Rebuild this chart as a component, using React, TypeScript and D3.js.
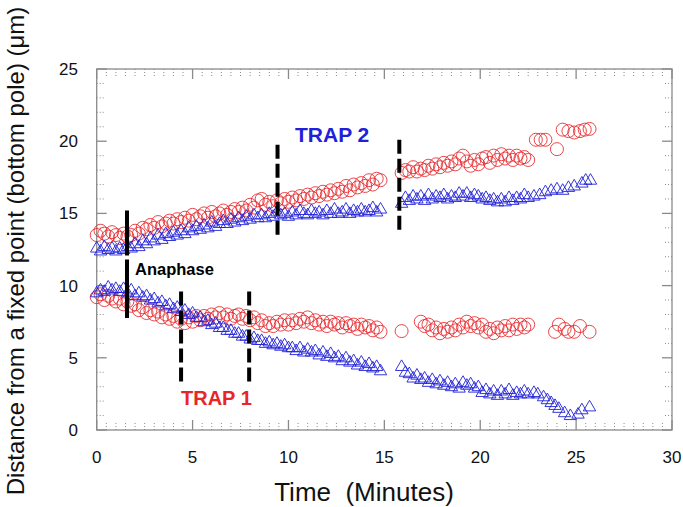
import React from 'react';
import * as d3 from 'd3';

// sampling interval of the tracked frames (minutes)
const dt = 0.2;

// pole positions (um), first stretch 0 - 14.8 min
const seg1Start = 0;
const upperRed1 = [
  13.5, 13.8, 13.6, 13.4, 13.7, 13.5, 13.3, 13.6, 13.4, 13.5, 13.8, 13.6, 14.0, 13.9, 14.2, 14.0, 14.4, 14.1, 14.3, 14.5,
  14.3, 14.6, 14.4, 14.7, 14.5, 14.9, 14.6, 14.8, 15.0, 14.7, 15.1, 14.8, 15.0, 15.2, 14.9, 15.1, 15.3, 15.1, 15.4, 15.2,
  15.6, 15.4, 15.9, 16.0, 15.6, 15.8, 15.5, 15.9, 15.7, 16.0, 15.8, 16.1, 15.9, 16.2, 16.0, 16.3, 16.1, 16.4, 16.2, 16.5,
  16.3, 16.6, 16.4, 16.7, 16.5, 16.9, 16.6, 17.0, 16.8, 17.1, 16.9, 17.3, 17.0, 17.4, 17.3,
];
const upperBlue1 = [
  12.6, 12.4, 12.7, 12.5, 12.6, 12.4, 12.6, 12.5, 12.7, 12.6, 12.9, 12.7, 13.1, 12.9, 13.3, 13.1, 13.5, 13.2, 13.6, 13.4,
  13.7, 13.5, 13.8, 13.6, 14.0, 13.8, 14.1, 13.9, 14.2, 14.0, 14.4, 14.1, 14.3, 14.5, 14.3, 14.6, 14.4, 14.7, 14.5, 14.8,
  14.6, 14.9, 14.7, 14.9, 14.7, 15.0, 14.8, 15.1, 14.9, 15.0, 14.8, 15.1, 14.9, 15.2, 15.0, 14.9, 15.2, 15.0, 15.1, 14.9,
  15.2, 15.0, 15.3, 15.0, 15.1, 15.3, 15.0, 15.2, 15.1, 15.3, 15.1, 15.2, 15.4, 15.1, 15.3,
];
const lowerRed1 = [
  9.2, 9.4, 9.0, 9.3, 9.1, 8.9, 9.1, 8.7, 8.9, 8.6, 8.7, 8.3, 8.5, 8.1, 8.3, 8.0, 8.2, 7.8, 8.0, 7.7,
  7.9, 7.5, 7.7, 7.4, 7.8, 7.5, 7.9, 7.6, 7.9, 7.7, 8.0, 7.8, 8.1, 7.8, 8.0, 7.7, 7.9, 8.0, 7.7, 7.9,
  7.6, 7.8, 7.4, 7.6, 7.2, 7.4, 7.2, 7.5, 7.3, 7.6, 7.3, 7.6, 7.4, 7.7, 7.5, 7.8, 7.4, 7.6, 7.3, 7.5,
  7.2, 7.5, 7.3, 7.4, 7.1, 7.4, 7.2, 7.3, 7.0, 7.3, 7.1, 7.2, 6.9, 7.1, 6.8,
];
const lowerBlue1 = [
  9.5, 9.7, 9.6, 9.9, 9.7, 9.8, 9.6, 9.8, 9.5, 9.7, 9.3, 9.5, 9.2, 9.3, 9.0, 9.1, 8.8, 8.9, 8.6, 8.7,
  8.4, 8.5, 8.2, 8.3, 8.0, 8.1, 7.8, 7.8, 7.5, 7.6, 7.3, 7.4, 7.1, 7.1, 6.9, 6.9, 6.7, 6.7, 6.5, 6.5,
  6.3, 6.4, 6.2, 6.2, 6.0, 6.1, 5.9, 6.0, 5.8, 5.9, 5.7, 5.7, 5.5, 5.7, 5.4, 5.6, 5.4, 5.5, 5.2, 5.4,
  5.1, 5.3, 5.0, 5.1, 4.8, 5.0, 4.7, 4.8, 4.5, 4.7, 4.4, 4.6, 4.3, 4.4, 4.1,
];

// second stretch, 15.9 - 22.5 min
const seg2Start = 15.9;
const upperRed2 = [
  17.8, 18.0, 17.9, 18.2, 17.9, 18.1, 18.0, 18.3, 18.1, 18.4, 18.2, 18.5, 18.3, 18.6, 18.4, 18.8, 19.0,
  18.6, 18.3, 18.7, 18.4, 18.8, 18.9, 18.5, 19.0, 18.7, 19.1, 18.8, 19.0, 18.7, 19.0, 18.8, 18.9, 18.7,
];
const upperBlue2 = [
  15.7, 16.1, 15.9, 16.2, 16.0, 16.2, 15.9, 16.3, 16.0, 16.2, 16.1, 16.3, 16.0, 16.2, 16.1, 16.4, 16.2,
  16.4, 16.1, 16.3, 16.2, 16.0, 16.1, 15.9, 16.0, 15.8, 16.0, 15.8, 16.1, 15.9, 16.1, 16.0, 16.3, 16.1,
];
const lowerBlue2 = [
  4.4, 4.0, 3.9, 3.6, 3.8, 3.5, 3.6, 3.3, 3.5, 3.2, 3.4, 3.1, 3.3, 3.0, 3.2, 2.9, 3.3,
  3.1, 3.2, 2.9, 3.0, 2.6, 2.8, 2.5, 2.7, 2.4, 2.7, 2.5, 2.8, 2.4, 2.6, 2.5, 2.7, 2.5,
];
const lowerRed2Start = 16.9;
const lowerRed2 = [
  7.5, 7.2, 7.3, 6.9, 7.1, 6.7, 7.0, 6.8, 7.1, 6.9, 7.3, 7.1, 7.5, 7.2, 7.4,
  7.1, 7.3, 6.8, 7.0, 6.7, 7.1, 6.9, 7.2, 6.9, 7.3, 7.0, 7.3, 7.1, 7.3,
];

// sparse points [time, position]
const lowerRedLone: [number, number][] = [[15.9, 6.85]];
const upperRedTail: [number, number][] = [
  [22.9, 20.1], [23.15, 20.1], [23.4, 20.1], [24.0, 19.45], [24.3, 20.8],
  [24.6, 20.7], [24.9, 20.6], [25.2, 20.7], [25.45, 20.8], [25.7, 20.85],
];
const upperBlueTail: [number, number][] = [
  [22.8, 16.2], [23.1, 16.3], [23.4, 16.5], [23.7, 16.6], [24.0, 16.7], [24.3, 16.6],
  [24.6, 16.8], [24.9, 16.9], [25.3, 17.1], [25.5, 17.3], [25.75, 17.3],
];
const lowerRedTail: [number, number][] = [
  [23.9, 6.8], [24.1, 7.3], [24.4, 7.0], [24.6, 6.8], [24.9, 6.8], [25.2, 7.2], [25.7, 6.8],
];
const lowerBlueTail: [number, number][] = [
  [22.8, 2.6], [23.0, 2.5], [23.3, 2.3], [23.5, 2.1], [23.7, 1.9], [23.9, 1.7], [24.1, 1.5],
  [24.4, 1.2], [24.7, 1.0], [25.1, 1.1], [25.3, 1.4], [25.7, 1.6],
];

// marker lines: [time, from, to]
const anaphaseLine = [1.58, 15.2, 7.75];
const trapLines = [
  [4.4, 9.6, 3.2],
  [7.95, 9.6, 3.2],
  [9.43, 19.75, 13.4],
  [15.78, 20.1, 13.75],
];

const xTicks = [0, 5, 10, 15, 20, 25, 30];
const yTicks = [0, 5, 10, 15, 20, 25];

const RED = '#e8262a';
const BLUE = '#2020d8';
const FONT = "'Liberation Sans', Arial, Helvetica, sans-serif";

const sampled = (start: number, vals: number[]): [number, number][] =>
  vals.map((v, i) => [start + i * dt, v]);

const redPts = [
  ...sampled(seg1Start, upperRed1),
  ...sampled(seg1Start, lowerRed1),
  ...sampled(seg2Start, upperRed2),
  ...sampled(lowerRed2Start, lowerRed2),
  ...lowerRedLone,
  ...upperRedTail,
  ...lowerRedTail,
];
const bluePts = [
  ...sampled(seg1Start, upperBlue1),
  ...sampled(seg1Start, lowerBlue1),
  ...sampled(seg2Start, upperBlue2),
  ...sampled(seg2Start, lowerBlue2),
  ...upperBlueTail,
  ...lowerBlueTail,
];

export default function App() {
  const left = 96.7, right = 672, top = 69, bottom = 430;
  const x = d3.scaleLinear().domain([0, 30]).range([left, right]);
  const y = d3.scaleLinear().domain([0, 25]).range([bottom, top]);

  const minorX = d3.range(0, 30.01, 0.5).filter(v => v % 5 !== 0);
  const minorY = d3.range(0, 25.01, 1).filter(v => v % 5 !== 0);
  const tri = 'M0,-6.6L6.2,4L-6.2,4Z';
  const grey = '#8a8a8a';

  return (
    <svg width={683} height={507} style={{ position: 'absolute', left: 0, top: 0, background: '#fff' }}>
      {/* frame */}
      <rect x={left} y={top} width={right - left} height={bottom - top} fill="none" stroke={grey} strokeWidth={1.3} />
      {minorX.map(v => (
        <g key={'mx' + v} stroke={grey} strokeWidth={1} strokeDasharray="1,2">
          <line x1={x(v)} x2={x(v)} y1={bottom} y2={bottom - 7} />
          <line x1={x(v)} x2={x(v)} y1={top} y2={top + 7} />
        </g>
      ))}
      {minorY.map(v => (
        <g key={'my' + v} stroke={grey} strokeWidth={1} strokeDasharray="1,2">
          <line x1={left} x2={left + 7} y1={y(v)} y2={y(v)} />
          <line x1={right} x2={right - 7} y1={y(v)} y2={y(v)} />
        </g>
      ))}
      {xTicks.map(v => (
        <g key={'x' + v}>
          <line x1={x(v)} x2={x(v)} y1={bottom} y2={bottom - 10} stroke={grey} strokeWidth={1.3} />
          <line x1={x(v)} x2={x(v)} y1={top} y2={top + 10} stroke={grey} strokeWidth={1.3} />
          <text x={x(v)} y={463} textAnchor="middle" fontFamily={FONT} fontSize={17} fill="#111">{v}</text>
        </g>
      ))}
      {yTicks.map(v => (
        <g key={'y' + v}>
          <line x1={left} x2={left + 10} y1={y(v)} y2={y(v)} stroke={grey} strokeWidth={1.3} />
          <line x1={right} x2={right - 10} y1={y(v)} y2={y(v)} stroke={grey} strokeWidth={1.3} />
          <text x={78} y={y(v) + 6} textAnchor="end" fontFamily={FONT} fontSize={17} fill="#111">{v}</text>
        </g>
      ))}

      {/* data */}
      {redPts.map((d, i) => (
        <circle key={'r' + i} cx={x(d[0])} cy={y(d[1])} r={6.5} fill="none" stroke={RED} strokeWidth={1} strokeOpacity={0.85} />
      ))}
      {bluePts.map((d, i) => (
        <path key={'b' + i} d={tri} transform={`translate(${x(d[0])},${y(d[1])})`} fill="none" stroke={BLUE} strokeWidth={1} strokeOpacity={0.9} />
      ))}

      {/* anaphase and trap markers */}
      <line x1={x(anaphaseLine[0])} x2={x(anaphaseLine[0])} y1={y(anaphaseLine[1])} y2={y(anaphaseLine[2])}
        stroke="#000" strokeWidth={4} strokeDasharray="45,4,200" />
      {trapLines.map((l, i) => (
        <line key={'t' + i} x1={x(l[0])} x2={x(l[0])} y1={y(l[1])} y2={y(l[2])}
          stroke="#000" strokeWidth={4} strokeDasharray="14,5" />
      ))}
      <text x={135} y={275} fontFamily={FONT} fontSize={16.5} fontWeight="bold" fill="#000">Anaphase</text>
      <text x={295} y={142} fontFamily={FONT} fontSize={21} fontWeight="bold" fill={BLUE}>TRAP 2</text>
      <text x={181} y={405} fontFamily={FONT} fontSize={20} fontWeight="bold" fill={RED}>TRAP 1</text>

      {/* axis titles */}
      <text x={364} y={501} textAnchor="middle" fontFamily={FONT} fontSize={26} fill="#111" style={{ whiteSpace: 'pre' }}>
        {'Time  (Minutes)'}
      </text>
      <text transform="translate(24,251) rotate(-90)" textAnchor="middle" fontFamily={FONT} fontSize={24} fill="#111">
        Distance from a fixed point (bottom pole) (μm)
      </text>
    </svg>
  );
}
